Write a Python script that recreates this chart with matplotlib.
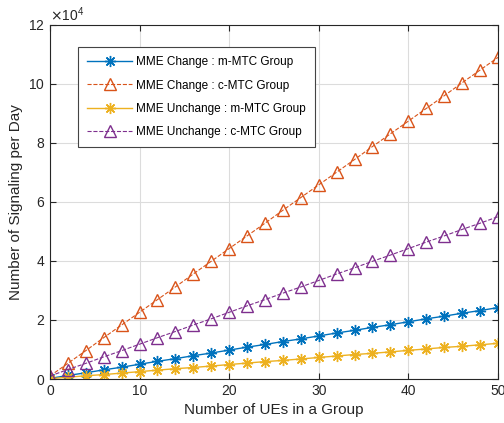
import numpy as np
import matplotlib.pyplot as plt
from matplotlib.ticker import ScalarFormatter

plt.rcParams['font.family'] = ['Liberation Sans', 'DejaVu Sans']

# number of UEs in a group
ues = np.arange(0, 51, 2)

# signaling per day (raw counts)
chg_m = np.array([0.02, 0.12, 0.21, 0.31, 0.40, 0.50, 0.60, 0.69, 0.79, 0.88, 0.98, 1.08, 1.17,
                  1.27, 1.36, 1.46, 1.56, 1.65, 1.75, 1.84, 1.94, 2.04, 2.13, 2.23, 2.32, 2.42]) * 1e4
chg_c = np.array([0.10, 0.53, 0.96, 1.40, 1.83, 2.26, 2.69, 3.12, 3.56, 3.99, 4.42, 4.85, 5.28,
                  5.72, 6.15, 6.58, 7.01, 7.44, 7.88, 8.31, 8.74, 9.17, 9.60, 10.04, 10.47, 10.90]) * 1e4
unchg_m = np.array([0.01, 0.06, 0.11, 0.15, 0.20, 0.25, 0.30, 0.35, 0.39, 0.44, 0.49, 0.54, 0.59,
                    0.63, 0.68, 0.73, 0.78, 0.83, 0.87, 0.92, 0.97, 1.02, 1.07, 1.11, 1.16, 1.21]) * 1e4
unchg_c = np.array([0.10, 0.32, 0.53, 0.75, 0.96, 1.18, 1.40, 1.61, 1.83, 2.04, 2.26, 2.48, 2.69,
                    2.91, 3.12, 3.34, 3.56, 3.77, 3.99, 4.20, 4.42, 4.64, 4.85, 5.07, 5.28, 5.50]) * 1e4

labels = ["MME Change : m-MTC Group", "MME Change : c-MTC Group",
          "MME Unchange : m-MTC Group", "MME Unchange : c-MTC Group"]

fig = plt.figure(figsize=(5.04, 4.23), dpi=100)
ax = fig.add_axes([0.099, 0.104, 0.889, 0.837])

star = (8, 2, 0)  # matlab-like asterisk
ax.plot(ues, chg_m, '-', color='#0072BD', marker=star, ms=8, mew=1, lw=1, label=labels[0])
ax.plot(ues, chg_c, '--', color='#D95319', marker='^', ms=9, mfc='none', mew=1, lw=0.8, label=labels[1])
ax.plot(ues, unchg_m, '-', color='#EDB120', marker=star, ms=8, mew=1, lw=1, label=labels[2])
ax.plot(ues, unchg_c, '--', color='#7E2F8E', marker='^', ms=9, mfc='none', mew=1, lw=0.8, label=labels[3])

ax.set_xlim(0, 50)
ax.set_ylim(0, 12e4)
ax.set_xticks([0, 10, 20, 30, 40, 50])
ax.set_yticks(np.arange(0, 12.1e4, 2e4))
fmt = ScalarFormatter(useMathText=True)
fmt.set_powerlimits((4, 4))
ax.yaxis.set_major_formatter(fmt)
ax.yaxis.get_offset_text().set_fontsize(10)
ax.yaxis.get_offset_text().set_color('#262626')

ax.grid(True, color='#dcdcdc', lw=0.8)
ax.set_axisbelow(True)
ax.tick_params(direction='in', top=True, right=True, labelsize=10, colors='#262626', length=4)
for s in ax.spines.values():
    s.set_color('#262626')
    s.set_linewidth(0.8)

ax.set_xlabel("Number of UEs in a Group", fontsize=11, color='#262626')
ax.set_ylabel("Number of Signaling per Day", fontsize=11, color='#262626')

leg = ax.legend(loc='upper left', bbox_to_anchor=(0.0625, 0.938), borderaxespad=0, fontsize=8.5,
                frameon=True, fancybox=False, edgecolor='#444444', handlelength=3.8,
                borderpad=0.8, labelspacing=0.95, handletextpad=0.3, framealpha=1)
leg.get_frame().set_linewidth(0.8)

fig.savefig("out.png", dpi=100)
